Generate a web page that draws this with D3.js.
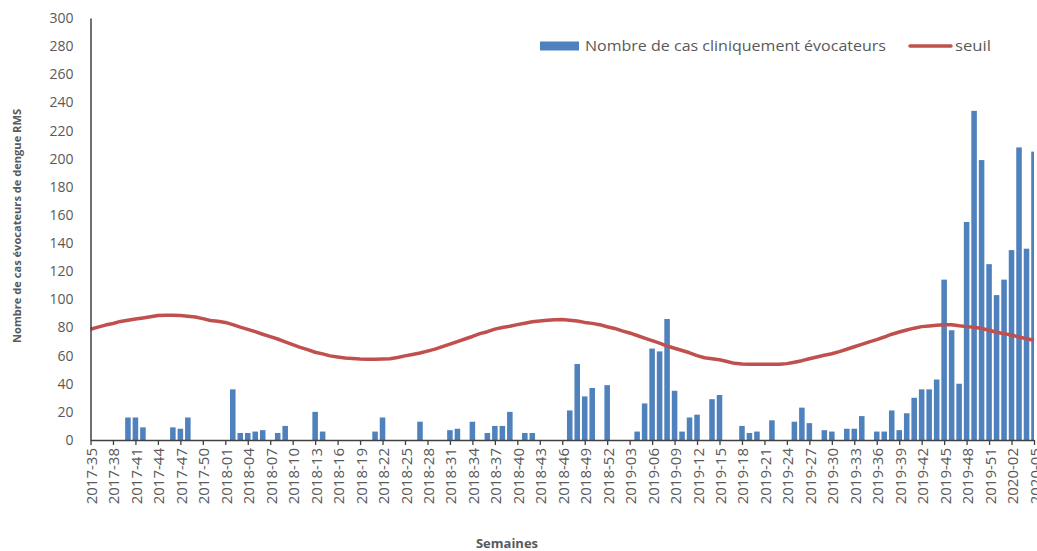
<!DOCTYPE html>
<html>
<head>
<meta charset="utf-8">
<script src="https://cdn.jsdelivr.net/npm/d3@7"></script>
<style>
  body { margin: 0; background: #fff; }
  text { font-family: "Open Sans", "Noto Sans", sans-serif; fill: #595959; }
</style>
</head>
<body>
<div id="chart"></div>
<script>
// weeks (categories)
const weeks = [
  "2017-35","2017-36","2017-37","2017-38","2017-39","2017-40","2017-41","2017-42","2017-43","2017-44",
  "2017-45","2017-46","2017-47","2017-48","2017-49","2017-50","2017-51","2017-52",
  "2018-01","2018-02","2018-03","2018-04","2018-05","2018-06","2018-07","2018-08","2018-09","2018-10",
  "2018-11","2018-12","2018-13","2018-14","2018-15","2018-16","2018-17","2018-18","2018-19","2018-20",
  "2018-21","2018-22","2018-23","2018-24","2018-25","2018-26","2018-27","2018-28","2018-29","2018-30",
  "2018-31","2018-32","2018-33","2018-34","2018-35","2018-36","2018-37","2018-38","2018-39","2018-40",
  "2018-41","2018-42","2018-43","2018-44","2018-45","2018-46","2018-47","2018-48","2018-49","2018-50",
  "2018-51","2018-52",
  "2019-01","2019-02","2019-03","2019-04","2019-05","2019-06","2019-07","2019-08","2019-09","2019-10",
  "2019-11","2019-12","2019-13","2019-14","2019-15","2019-16","2019-17","2019-18","2019-19","2019-20",
  "2019-21","2019-22","2019-23","2019-24","2019-25","2019-26","2019-27","2019-28","2019-29","2019-30",
  "2019-31","2019-32","2019-33","2019-34","2019-35","2019-36","2019-37","2019-38","2019-39","2019-40",
  "2019-41","2019-42","2019-43","2019-44","2019-45","2019-46","2019-47","2019-48","2019-49","2019-50",
  "2019-51","2019-52",
  "2020-01","2020-02","2020-03","2020-04","2020-05"
];

// Nombre de cas cliniquement évocateurs
const cases = [
  0,0,0,0,0,16,16,9,0,0,0,9,8,16,0,0,0,0,
  0,36,5,5,6,7,0,5,10,0,0,0,20,6,0,0,0,0,0,0,6,16,0,0,0,0,13,0,0,0,7,8,0,13,0,5,10,10,20,0,5,5,0,0,0,0,21,54,31,37,0,39,
  0,0,0,6,26,65,63,86,35,6,16,18,0,29,32,0,0,10,5,6,0,14,0,0,13,23,12,0,7,6,0,8,8,17,0,6,6,21,7,19,30,36,36,43,114,78,40,155,234,199,125,103,
  114,135,208,136,205
];

// seuil
const seuil = [
  78.7,80.2,81.7,82.8,84.3,85.2,86,86.8,87.6,88.5,88.6,88.6,88.5,88,87.4,86.3,85,84.4,
  83.6,82,80.2,78.6,77,75.2,73.5,71.8,69.8,67.8,65.9,64.2,62.4,61.2,59.8,59,58.3,57.9,57.5,57.4,57.4,57.6,
  57.8,58.6,59.8,60.8,61.9,63.2,64.6,66.4,68.1,70,71.8,73.6,75.6,77,78.8,80,80.9,82,83,84,84.6,85.1,85.5,85.6,85.2,84.6,83.6,82.9,82,80.5,
  79.3,77.6,76.1,74.3,72.4,70.6,68.9,66.8,65.2,63.6,62,60,58.5,57.8,57,55.8,54.5,54,53.8,53.8,53.8,53.8,53.8,54.3,55.3,56.4,
  57.8,59,60.3,61.3,62.8,64.5,66.3,68,69.8,71.4,73.2,75.2,76.8,78.2,79.5,80.6,81,81.5,82,82,81.2,80.6,80.2,79.3,78,76.6,
  75.6,74.6,73.2,72,70.9
];

const yTicks = [0,20,40,60,80,100,120,140,160,180,200,220,240,260,280,300];

const W = 1037, H = 551;
const plotLeft = 90.5, plotRight = 1034, plotTop = 18, plotBottom = 440;

const svg = d3.select("#chart").append("svg")
  .attr("width", W)
  .attr("height", H);

const x = d3.scalePoint()
  .domain(weeks)
  .range([plotLeft, plotRight]);

const y = d3.scaleLinear()
  .domain([0, 300])
  .range([plotBottom, plotTop]);

const barW = x.step() * 0.74;

// bars (clipped at the plot edges like Excel "on tick marks")
svg.append("clipPath").attr("id", "plot")
  .append("rect")
  .attr("x", plotLeft).attr("y", 0)
  .attr("width", plotRight - plotLeft).attr("height", plotBottom);

svg.append("g")
  .attr("clip-path", "url(#plot)")
  .selectAll("rect")
  .data(weeks.map((w, i) => ({ w, v: cases[i] })).filter(d => d.v > 0))
  .join("rect")
  .attr("x", d => x(d.w) - barW / 2)
  .attr("y", d => y(d.v))
  .attr("width", barW)
  .attr("height", d => y(0) - y(d.v))
  .attr("fill", "#4f81bd");

// seuil line
svg.append("path")
  .datum(seuil)
  .attr("fill", "none")
  .attr("stroke", "#c0504d")
  .attr("stroke-width", 3.5)
  .attr("stroke-linejoin", "round")
  .attr("d", d3.line()
    .x((d, i) => x(weeks[i]))
    .y(d => y(d)));

// y axis
const yAxis = svg.append("g")
  .attr("transform", `translate(${plotLeft},0)`)
  .call(d3.axisLeft(y).tickValues(yTicks).tickSize(0).tickPadding(17));
yAxis.select(".domain").attr("stroke", "#404040").attr("stroke-width", 1.5);
yAxis.selectAll("text")
  .style("font-size", "14px")
  .attr("fill", "#595959");

// x axis
const xAxis = svg.append("g")
  .attr("transform", `translate(0,${plotBottom})`)
  .call(d3.axisBottom(x)
    .tickValues(weeks.filter((w, i) => i % 3 === 0))
    .tickSize(5)
    .tickSizeOuter(0));
xAxis.select(".domain").attr("stroke", "#404040").attr("stroke-width", 1.5);
xAxis.selectAll(".tick line").attr("stroke", "#404040").attr("stroke-width", 1.3);
xAxis.selectAll("text")
  .style("font-size", "15px")
  .attr("fill", "#595959")
  .attr("text-anchor", "end")
  .attr("dominant-baseline", "central")
  .attr("transform", "rotate(-90)")
  .attr("x", -8)
  .attr("y", 0)
  .attr("dy", null);

// axis titles
svg.append("text")
  .attr("x", 507)
  .attr("y", 548)
  .attr("text-anchor", "middle")
  .style("font-size", "13px")
  .style("font-weight", "bold")
  .text("Semaines");

svg.append("text")
  .attr("transform", "translate(21,226) rotate(-90)")
  .attr("text-anchor", "middle")
  .attr("textLength", 234)
  .attr("lengthAdjust", "spacingAndGlyphs")
  .style("font-size", "11px")
  .style("font-weight", "bold")
  .text("Nombre de cas évocateurs de dengue RMS");

// legend
const legend = svg.append("g");
legend.append("rect")
  .attr("x", 540).attr("y", 41.5)
  .attr("width", 39).attr("height", 9)
  .attr("fill", "#4f81bd");
legend.append("text")
  .attr("x", 585).attr("y", 51)
  .attr("textLength", 301)
  .attr("lengthAdjust", "spacingAndGlyphs")
  .style("font-size", "14px")
  .text("Nombre de cas cliniquement évocateurs");
legend.append("line")
  .attr("x1", 910).attr("x2", 951)
  .attr("y1", 46).attr("y2", 46)
  .attr("stroke", "#c0504d")
  .attr("stroke-width", 3.5)
  .attr("stroke-linecap", "round");
legend.append("text")
  .attr("x", 955).attr("y", 51)
  .attr("textLength", 36)
  .attr("lengthAdjust", "spacingAndGlyphs")
  .style("font-size", "14px")
  .text("seuil");
</script>
</body>
</html>
